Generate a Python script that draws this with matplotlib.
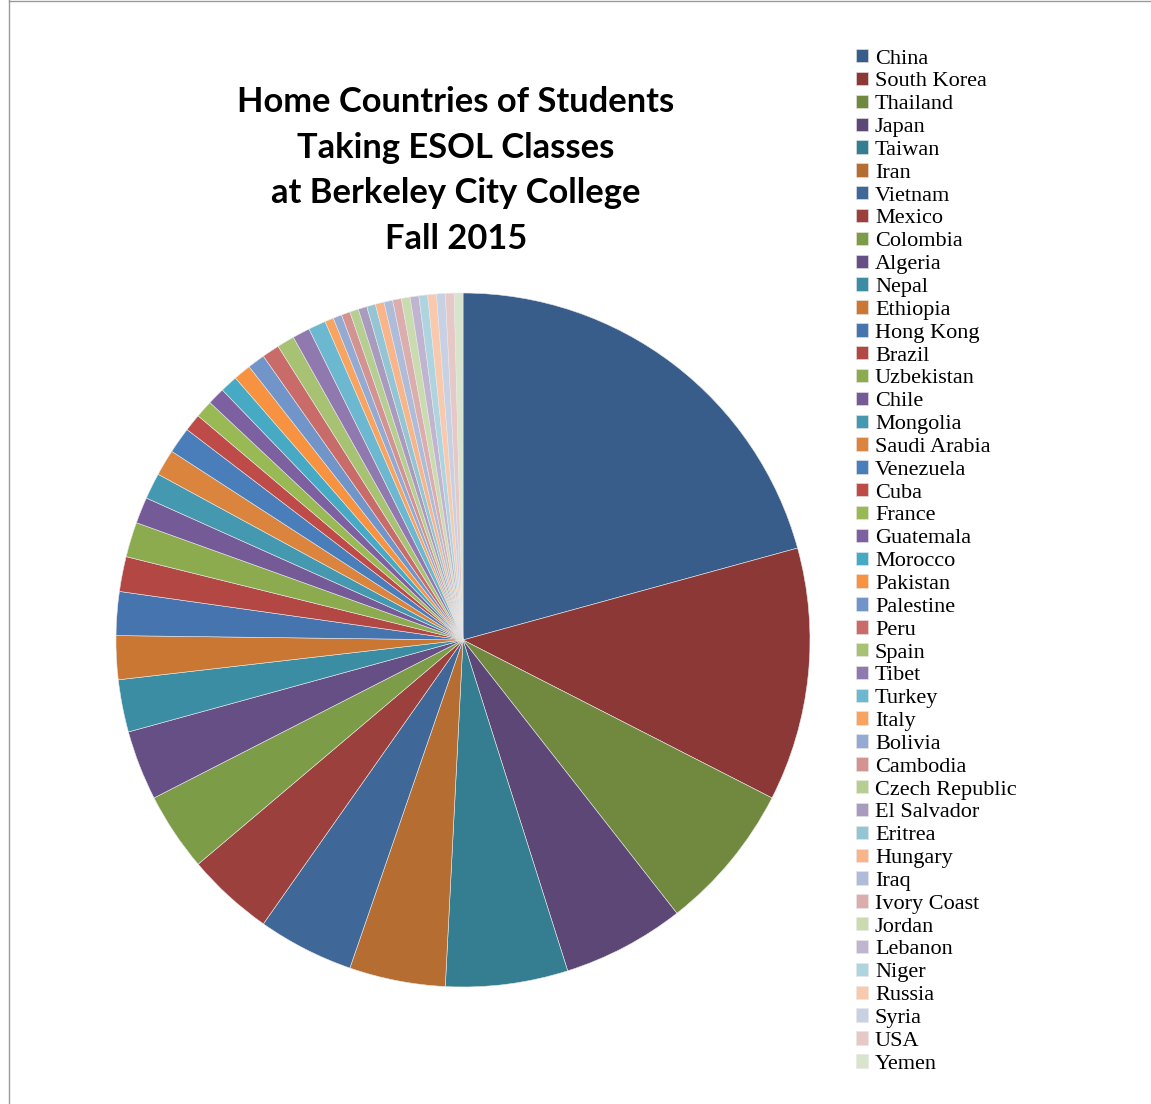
import matplotlib
matplotlib.use("Agg")
import matplotlib.pyplot as plt
from matplotlib.lines import Line2D

countries = ["China", "South Korea", "Thailand", "Japan", "Taiwan", "Iran", "Vietnam",
             "Mexico", "Colombia", "Algeria", "Nepal", "Ethiopia", "Hong Kong", "Brazil",
             "Uzbekistan", "Chile", "Mongolia", "Saudi Arabia", "Venezuela", "Cuba",
             "France", "Guatemala", "Morocco", "Pakistan", "Palestine", "Peru", "Spain",
             "Tibet", "Turkey", "Italy", "Bolivia", "Cambodia", "Czech Republic",
             "El Salvador", "Eritrea", "Hungary", "Iraq", "Ivory Coast", "Jordan",
             "Lebanon", "Niger", "Russia", "Syria", "USA", "Yemen"]
students = [51, 29, 17, 14, 14, 11, 11, 10, 9, 8, 6, 5, 5, 4, 4, 3, 3, 3, 3, 2,
            2, 2, 2, 2, 2, 2, 2, 2, 2, 1, 1, 1, 1, 1, 1, 1, 1, 1, 1, 1, 1, 1, 1, 1, 1]
colors = ["#385D8A", "#8C3836", "#71893F", "#5C4776", "#357D91", "#B66D31",
          "#3F6797", "#9C403D", "#7D9C47", "#664F85", "#3B8DA4", "#CA7734",
          "#4674AE", "#B24744", "#8BAB4E", "#745A97", "#4499B0", "#DA843E",
          "#4A7EBB", "#BE4B48", "#98B954", "#7D60A0", "#46AAC5", "#F69240",
          "#7295C9", "#C96B69", "#A7C272", "#9079AE", "#6CB8D0", "#F8A35F",
          "#95AAD2", "#D39391", "#B7CE93", "#A99BBE", "#93C5D4", "#F9B58A",
          "#AEBBD9", "#DBAEAD", "#CBDBB0", "#BFB5D0", "#AED4E0", "#F9C9AD",
          "#C8D0E4", "#E6C8C7", "#D8E4CB"]
title = "Home Countries of Students\nTaking ESOL Classes\nat Berkeley City College\nFall 2015"

W, H = 1151, 1104
fig = plt.figure(figsize=(W / 100, H / 100), dpi=100)
fig.patch.set_facecolor("white")

cx, cy, r = 463, 640, 347
ax = fig.add_axes([(cx - r) / W, (H - cy - r) / H, 2 * r / W, 2 * r / H])
wedges, _ = ax.pie(students, colors=colors, startangle=90, counterclock=False,
                   radius=1, wedgeprops=dict(edgecolor="#e8e8e8", linewidth=0.4))
ax.set_xlim(-1, 1)
ax.set_ylim(-1, 1)
ax.set_aspect("equal")
ax.axis("off")

fig.text(456 / W, 1 - 170.5 / H, title, ha="center", va="center",
         fontsize=24.8, fontweight="bold", family="Lato", linespacing=1.535,
         color="black")

leg = fig.legend(wedges, countries, loc="upper left",
                 bbox_to_anchor=(856 / W, 1 - 49 / H),
                 frameon=False, prop=dict(family="Liberation Serif", size=16),
                 handlelength=0.55, handleheight=0.55, handletextpad=0.3,
                 labelspacing=0.148, borderpad=0, borderaxespad=0)

fig.add_artist(Line2D([8.5 / W, 8.5 / W], [0, 1], transform=fig.transFigure,
                      color="#9a9a9a", linewidth=1))
fig.add_artist(Line2D([8.5 / W, 1], [1 - 0.5 / H, 1 - 0.5 / H], transform=fig.transFigure,
                      color="#9a9a9a", linewidth=1))

fig.savefig("out.png", dpi=100)
